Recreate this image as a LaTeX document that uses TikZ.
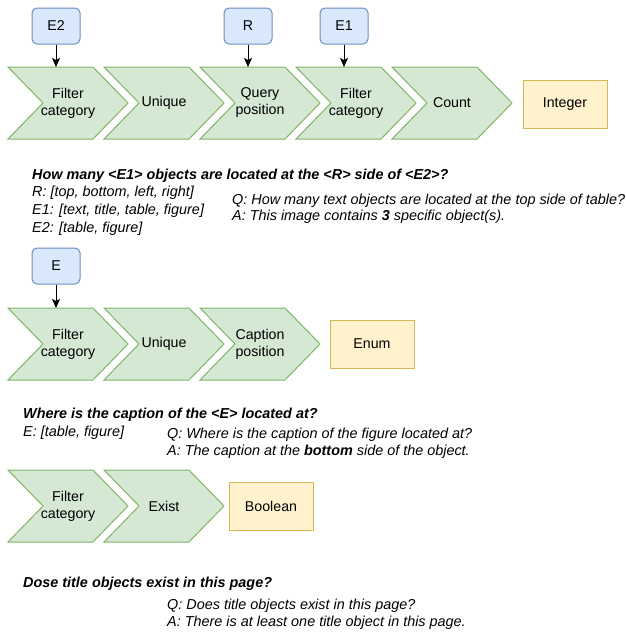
\documentclass[tikz,border=0pt]{standalone}
\usepackage{fontspec}
\setmainfont{Liberation Sans}
\usetikzlibrary{arrows.meta}
\definecolor{gfill}{HTML}{D5E8D4}
\definecolor{gline}{HTML}{82B366}
\definecolor{bfill}{HTML}{DAE8FC}
\definecolor{bline}{HTML}{6C8EBF}
\definecolor{yfill}{HTML}{FFF2CC}
\definecolor{yline}{HTML}{D6B656}
\tikzset{
  chevst/.style={fill=gfill,draw=gline,line width=1pt,line join=miter},
  lbl/.style={font=\fontsize{14.2}{17}\selectfont,align=center,inner sep=0pt},
  param/.style={rectangle,rounded corners=5pt,fill=bfill,draw=bline,line width=1pt,minimum width=48pt,minimum height=36pt,inner sep=0pt,font=\fontsize{14.2}{17}\selectfont},
  outbox/.style={rectangle,fill=yfill,draw=yline,line width=1pt,minimum width=84pt,minimum height=48pt,inner sep=0pt,font=\fontsize{14.2}{17}\selectfont},
  arr/.style={line width=1pt,-{Stealth[length=9pt,width=8pt,inset=2pt]}},
  txt/.style={anchor=base west,inner sep=0pt,font=\fontsize{14.4}{17}\selectfont\itshape},
  ttl/.style={anchor=base west,inner sep=0pt,font=\fontsize{14.4}{17}\selectfont\bfseries\itshape},
}
\newcommand\chev[4]{%
  \draw[chevst] (#2,#3) -- ++(85,0) -- ++(35,36) -- ++(-35,36) -- ++(-85,0) -- ++(35,-36) -- cycle;
  \node[lbl] (#1) at (#2+60,#3+36) {#4};
  \coordinate (#1-top) at (#2+48,#3);
}
\begin{document}
\begin{tikzpicture}[x=1pt,y=-1pt]
\useasboundingbox (0,0) rectangle (625,632);
% Row 1
\chev{a1}{8}{67}{Filter\\category}
\chev{a2}{104}{67}{Unique}
\chev{a3}{200}{67}{Query\\position}
\chev{a4}{296}{67}{Filter\\category}
\chev{a5}{392}{67}{Count}
\node[outbox] (int) at (565,104) {Integer};
\node[param] (pE2) at (56,26) {E2};
\node[param] (pR) at (248,26) {R};
\node[param] (pE1) at (344,26) {E1};
\draw[arr] (pE2) -- (a1-top);
\draw[arr] (pR) -- (a3-top);
\draw[arr] (pE1) -- (a4-top);
\node[ttl] (t1) at (32,179) {How many <E1> objects are located at the <R> side of <E2>?};
\node[txt] (r1) at (32,196) {R: [top, bottom, left, right]};
\node[txt] (r2) at (32,214) {E1: [text, title, table, figure]};
\node[txt] (r3) at (32,232) {E2: [table, figure]};
\node[txt] (q1) at (232,204) {Q: How many text objects are located at the top side of table?};
\node[txt] (s1) at (232,220) {A: This image contains \textbf{3} specific object(s).};
% Row 2
\chev{b1}{8}{308}{Filter\\category}
\chev{b2}{104}{308}{Unique}
\chev{b3}{200}{308}{Caption\\position}
\node[outbox] (enum) at (372,344) {Enum};
\node[param] (pE) at (56,266) {E};
\draw[arr] (pE) -- (b1-top);
\node[ttl] (t2) at (23,418) {Where is the caption of the <E> located at?};
\node[txt] (e2) at (23,436) {E: [table, figure]};
\node[txt] (q2) at (167,438) {Q: Where is the caption of the figure located at?};
\node[txt] (s2) at (167,455) {A: The caption at the \textbf{bottom} side of the object.};
% Row 3
\chev{c1}{8}{470}{Filter\\category}
\chev{c2}{104}{470}{Exist}
\node[outbox] (bool) at (271,506) {Boolean};
\node[ttl] (t3) at (23,587) {Dose title objects exist in this page?};
\node[txt] (q3) at (167,609) {Q: Does title objects exist in this page?};
\node[txt] (s3) at (167,626) {A: There is at least one title object in this page.};
\end{tikzpicture}
\end{document}
